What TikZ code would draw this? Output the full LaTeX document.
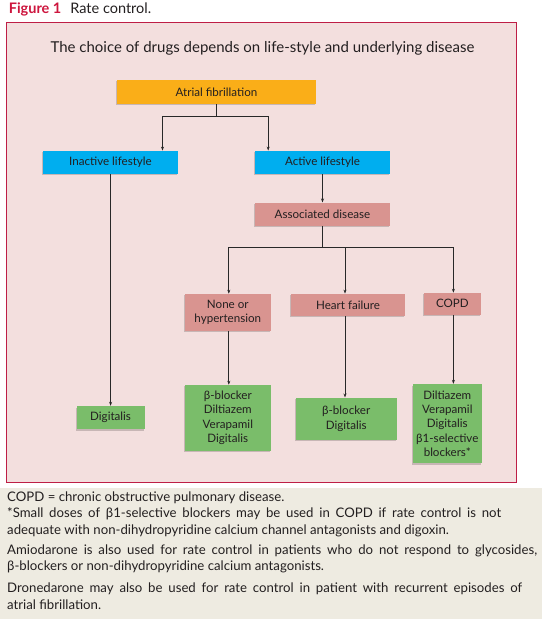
\documentclass[tikz,border=0pt]{standalone}
\usepackage{fontspec}
\setmainfont{Lato}
\usetikzlibrary{arrows.meta,shadows}
\definecolor{figred}{RGB}{205,22,62}
\definecolor{bordc}{RGB}{190,30,70}
\definecolor{pinkbg}{RGB}{243,223,222}
\definecolor{beige}{RGB}{238,235,225}
\definecolor{orangec}{RGB}{250,174,24}
\definecolor{cyanc}{RGB}{0,174,239}
\definecolor{rosec}{RGB}{217,148,144}
\definecolor{greenc}{RGB}{122,189,106}
\definecolor{txtc}{RGB}{35,31,32}
\definecolor{linec}{RGB}{40,40,40}
\begin{document}
\begin{tikzpicture}[x=1pt,y=-1pt,
  bx/.style={inner sep=0pt, align=center, text=txtc,
    font=\fontsize{11.6}{14.3}\selectfont,
    drop shadow={shadow xshift=-1pt, shadow yshift=-1.5pt, opacity=0.18, fill=black}},
  afbox/.style={bx, fill=orangec},
  lifebox/.style={bx, fill=cyanc},
  disbox/.style={bx, fill=rosec},
  drugbox/.style={bx, fill=greenc},
  ln/.style={draw=linec, line width=0.7pt},
  arr/.style={ln, -{Stealth[length=4pt,width=3pt]}},
  foot/.style={anchor=west, inner sep=0pt, text=txtc, font=\fontsize{13.2}{15}\selectfont}
]
\useasboundingbox (0,0) rectangle (542,619);
% caption
\node[anchor=west, inner sep=0pt, text=txtc, font=\fontsize{14.5}{16}\selectfont] (cap) at (8.6,9.5)
  {\textcolor{figred}{\bfseries Figure 1}\hspace{9pt}Rate control.};
% frame
\draw[fill=pinkbg, draw=bordc, line width=0.9pt] (6.2,22.7) rectangle (516,482.7);
% beige footnote area
\fill[beige] (0,488) rectangle (542,619);
% title
\node[text=txtc, font=\fontsize{15}{18}\selectfont] (title) at (262.5,48)
  {The choice of drugs depends on life-style and underlying disease};
% nodes
\node[afbox, minimum width=199pt, minimum height=24pt] (af) at (216.5,91.8) {Atrial fibrillation};
\node[lifebox, minimum width=135pt, minimum height=23pt] (inact) at (110.5,162.3) {Inactive lifestyle};
\node[lifebox, minimum width=135pt, minimum height=23pt] (act) at (322.5,162.3) {Active lifestyle};
\node[disbox, minimum width=135pt, minimum height=23pt] (assoc) at (322.5,214.2) {Associated disease};
\node[disbox, minimum width=85.6pt, minimum height=36.7pt] (none) at (227.8,312.3) {None or\\hypertension};
\node[disbox, minimum width=114pt, minimum height=22pt] (hf) at (348,304.8) {Heart failure};
\node[disbox, minimum width=57pt, minimum height=21.7pt] (copd) at (452.4,303.8) {COPD};
\node[drugbox, minimum width=68pt, minimum height=23pt] (dig) at (110.6,417.5) {Digitalis};
\node[drugbox, minimum width=85.6pt, minimum height=65.7pt] (g1) at (227.8,417.8) {β-blocker\\Diltiazem\\Verapamil\\Digitalis};
\node[drugbox, minimum width=101.3pt, minimum height=42.3pt] (g2) at (346.2,418.8) {β-blocker\\Digitalis};
\node[drugbox, minimum width=68.5pt, minimum height=79.3pt] (g3) at (447.3,423.7) {Diltiazem\\Verapamil\\Digitalis\\β1-selective\\blockers*};
% connectors
\coordinate (j1) at (216.5,116.3);
\draw[ln] (af.south) -- (j1);
\draw[arr] (j1) -| ([xshift=52pt]inact.north);
\draw[arr] (j1) -| ([xshift=-54.3pt]act.north);
\draw[arr] (inact.south) -- (dig.north);
\draw[arr] (act.south) -- (assoc.north);
\coordinate (j2) at (322.5,247.5);
\draw[ln] (assoc.south) -- (j2);
\draw[arr] (j2) -| ([xshift=1pt]none.north);
\draw[arr] (j2) -| ([xshift=-3pt]hf.north);
\draw[arr] (j2) -| ([xshift=1pt]copd.north);
\draw[arr] ([xshift=1pt]none.south) -- ([xshift=1pt]none.south |- g1.north);
\draw[arr] ([xshift=-3pt]hf.south) -- ([xshift=-3pt]hf.south |- g2.north);
\draw[arr] ([xshift=1pt]copd.south) -- ([xshift=1pt]copd.south |- g3.north);
% footnotes
\node[foot] (f1) at (7,497.3) {COPD = chronic obstructive pulmonary disease.};
\node[foot] (f2) at (7,514) {\makebox[494pt][s]{*Small doses of β1-selective blockers may be used in COPD if rate control is not}};
\node[foot] (f3) at (7,530.7) {adequate with non-dihydropyridine calcium channel antagonists and digoxin.};
\node[foot] (f4) at (7,550.7) {\makebox[530pt][s]{Amiodarone is also used for rate control in patients who do not respond to glycosides,}};
\node[foot] (f5) at (7,567.3) {β-blockers or non-dihydropyridine calcium antagonists.};
\node[foot] (f6) at (7,588.3) {\makebox[515pt][s]{Dronedarone may also be used for rate control in patient with recurrent episodes of}};
\node[foot] (f7) at (7,605) {atrial fibrillation.};
\end{tikzpicture}
\end{document}
